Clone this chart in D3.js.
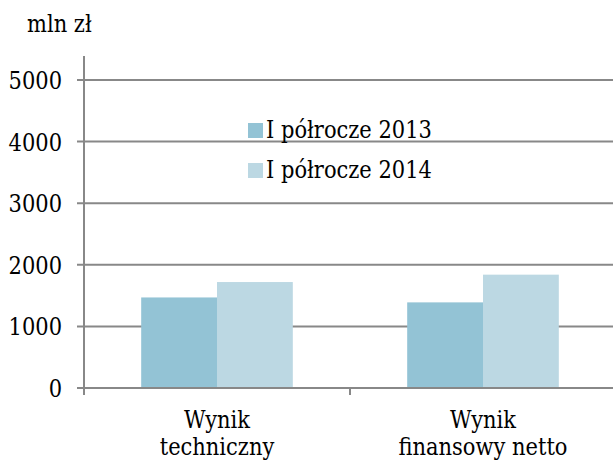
<!DOCTYPE html>
<html>
<head>
<meta charset="utf-8">
<script src="https://cdn.jsdelivr.net/npm/d3@7"></script>
<style>
  body { margin: 0; background: #fff; }
  svg text { font-family: "DejaVu Serif", serif; }
</style>
</head>
<body>
<script>
// Data
const categories = ["Wynik techniczny", "Wynik finansowy netto"];
const categoryLines = [["Wynik", "techniczny"], ["Wynik", "finansowy netto"]];
const seriesNames = ["I półrocze 2013", "I półrocze 2014"];
const values2013 = [1470, 1390];
const values2014 = [1720, 1840];
const yTicks = [0, 1000, 2000, 3000, 4000, 5000];
const unitLabel = "mln zł";

const seriesColors = ["#93c3d5", "#bcd8e3"];
const gridColor = "#888888";

const W = 613, H = 463;
const svg = d3.select("body").append("svg")
  .attr("width", W).attr("height", H)
  .attr("font-size", 24);

const x0 = d3.scaleBand()
  .domain(categories)
  .range([84, 616])
  .paddingInner(0.43)
  .paddingOuter(0.215);

const xStep = x0.step();
const x1 = d3.scaleBand()
  .domain(seriesNames)
  .range([0, x0.bandwidth()]);

const y = d3.scaleLinear().domain([0, 5000]).range([388, 80]);

// Gridlines
svg.append("g")
  .selectAll("line")
  .data(yTicks)
  .join("line")
  .attr("x1", 77).attr("x2", W)
  .attr("y1", d => y(d)).attr("y2", d => y(d))
  .attr("stroke", gridColor).attr("stroke-width", 2);

// Bars
const rows = categories.map((c, i) => ({ cat: c, vals: [values2013[i], values2014[i]] }));
svg.append("g")
  .selectAll("g")
  .data(rows)
  .join("g")
  .attr("transform", d => `translate(${x0(d.cat)},0)`)
  .selectAll("rect")
  .data(d => d.vals.map((v, j) => ({ s: seriesNames[j], v, j })))
  .join("rect")
  .attr("x", d => x1(d.s))
  .attr("width", x1.bandwidth())
  .attr("y", d => y(d.v))
  .attr("height", d => y(0) - y(d.v))
  .attr("fill", d => seriesColors[d.j]);

// Zero line over bars
svg.append("line")
  .attr("x1", 77).attr("x2", W)
  .attr("y1", y(0)).attr("y2", y(0))
  .attr("stroke", gridColor).attr("stroke-width", 2);

// Y axis line
svg.append("line")
  .attr("x1", 84).attr("x2", 84)
  .attr("y1", 56).attr("y2", 395)
  .attr("stroke", gridColor).attr("stroke-width", 2);

// X axis ticks at category boundaries
const bounds = [84, 84 + xStep, 84 + 2 * xStep];
svg.append("g")
  .selectAll("line")
  .data(bounds)
  .join("line")
  .attr("x1", d => d).attr("x2", d => d)
  .attr("y1", y(0)).attr("y2", 395)
  .attr("stroke", gridColor).attr("stroke-width", 2);

// Y tick labels
svg.append("g")
  .selectAll("text")
  .data(yTicks)
  .join("text")
  .attr("x", 62)
  .attr("y", d => y(d) + 9)
  .attr("text-anchor", "end")
  .text(d => d);

// Unit label
svg.append("text")
  .attr("x", 27).attr("y", 32)
  .text(unitLabel);

// Category labels (one text per line)
categories.forEach((c, i) => {
  categoryLines[i].forEach((line, k) => {
    svg.append("text")
      .attr("text-anchor", "middle")
      .attr("x", x0(c) + x0.bandwidth() / 2)
      .attr("y", 428 + k * 27)
      .text(line);
  });
});

// Legend
const legend = svg.append("g")
  .selectAll("g")
  .data(seriesNames)
  .join("g")
  .attr("transform", (d, i) => `translate(248,${138 + i * 40})`);
legend.append("rect")
  .attr("x", 0).attr("y", -15)
  .attr("width", 15).attr("height", 15)
  .attr("fill", (d, i) => seriesColors[i]);
legend.append("text")
  .attr("x", 18).attr("y", 0)
  .text(d => d);

// DejaVu Serif is wider than Times; squeeze it horizontally
const squeeze = 0.875;
svg.selectAll("text").each(function() {
  const len = this.getComputedTextLength();
  d3.select(this)
    .attr("textLength", len * squeeze)
    .attr("lengthAdjust", "spacingAndGlyphs");
});
</script>
</body>
</html>
